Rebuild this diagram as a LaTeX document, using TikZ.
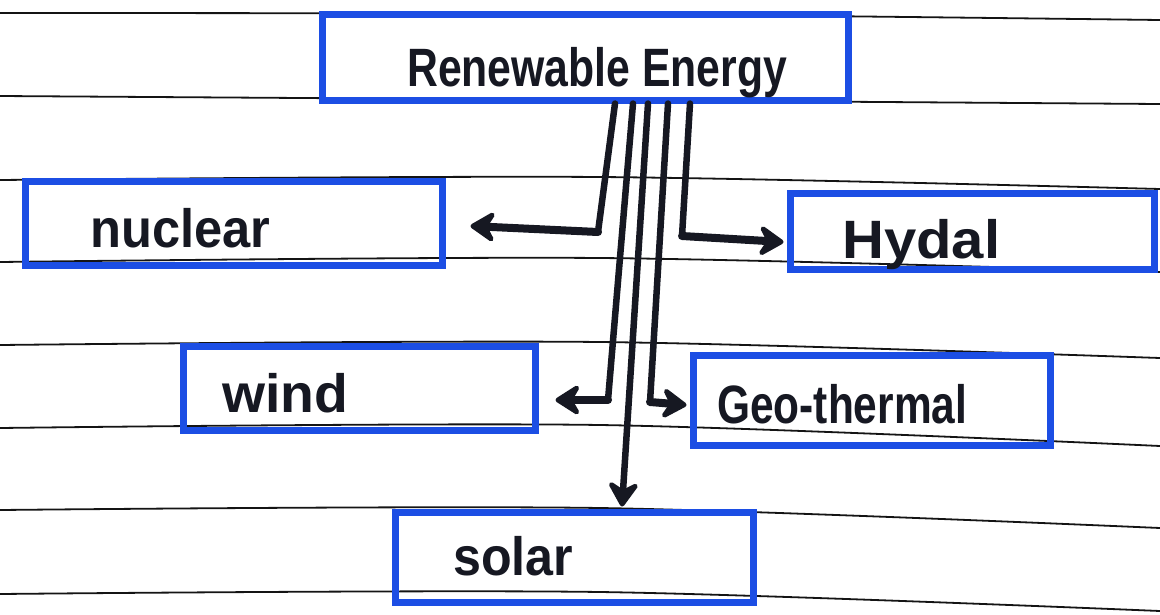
\documentclass[tikz,border=0pt]{standalone}
\usepackage{fontspec}
\setmainfont{Liberation Sans}
\usepackage{graphicx}
\usetikzlibrary{arrows.meta}
\definecolor{pen}{RGB}{28,78,228}
\definecolor{ink}{RGB}{22,24,34}
\definecolor{rule}{RGB}{20,20,20}
\newcommand\hw[2]{\resizebox{#1}{\height}{#2}}
\tikzset{
  box/.style={draw=pen, line width=7pt, rectangle, inner sep=0pt},
  lbl/.style={anchor=base west, inner sep=0pt, text=ink, font=\fontsize{54}{58}\selectfont\bfseries},
  conn/.style={draw=ink, line width=6.5pt, line join=round, line cap=round},
  thickconn/.style={conn, line width=8pt},
  tip/.style={-{Stealth[length=30pt,width=38pt,inset=11pt,round]}},
  ruling/.style={draw=rule, line width=1.8pt}
}
\begin{document}
\begin{tikzpicture}[x=1pt,y=-1pt]
\useasboundingbox[fill=white] (0,0) rectangle (1160,614);
% ruled paper
\foreach \a/\b/\c in {13/14/20, 96/100/104, 180/177/189, 262/258/272, 345/342/358, 428/425/446, 510/508/528, 594/592/611}
  \draw[ruling] plot[smooth] coordinates {(0,\a) (600,\b) (1160,\c)};
% boxes
\node[box, minimum width=526pt, minimum height=86pt] (re) at (585,57) {};
\node[box, minimum width=417pt, minimum height=84pt] (nuc) at (233.5,223) {};
\node[box, minimum width=364pt, minimum height=76pt] (hyd) at (972,231) {};
\node[box, minimum width=352pt, minimum height=84pt] (wind) at (359,388) {};
\node[box, minimum width=357pt, minimum height=90pt] (geo) at (871.5,400) {};
\node[box, minimum width=358pt, minimum height=90pt] (sol) at (574,557) {};
% labels
\node[lbl] (reT) at (407,86) {\hw{380pt}{Renewable Energy}};
\node[lbl] (nucT) at (90,247) {\hw{180pt}{nuclear}};
\node[lbl] (hydT) at (842,258) {\hw{158pt}{Hydal}};
\node[lbl] (windT) at (222,412) {\hw{126pt}{wind}};
\node[lbl] (geoT) at (717,423) {\hw{250pt}{Geo-thermal}};
\node[lbl] (solT) at (453,575) {\hw{120pt}{solar}};
% connector coordinates
\coordinate (t1) at ([xshift=30pt]re.south);
\coordinate (t2) at ([xshift=48pt]re.south);
\coordinate (t3) at ([xshift=63pt]re.south);
\coordinate (t4) at ([xshift=83pt]re.south);
\coordinate (t5) at ([xshift=105pt]re.south);
\coordinate (b1) at (598,232);
\coordinate (b2) at (608,400);
\coordinate (b4) at (650,402);
\coordinate (b5) at (682,236);
\coordinate (e1) at ([xshift=25pt,yshift=-3pt]nuc.east);
\coordinate (e2) at ([xshift=17pt,yshift=-12pt]wind.east);
\coordinate (e3) at ([xshift=48pt,yshift=2pt]sol.north);
\coordinate (e4) at ([xshift=-3pt,yshift=-5pt]geo.west);
\coordinate (e5) at ([xshift=-3pt,yshift=-11pt]hyd.west);
% connectors
\draw[conn] (t1) -- (b1);
\draw[thickconn, tip] (b1) -- (e1);
\draw[conn] (t5) -- (b5);
\draw[thickconn, tip] (b5) -- (e5);
\draw[conn] (t2) -- (b2);
\draw[thickconn, tip] (b2) -- (e2);
\draw[conn] (t4) -- (b4);
\draw[thickconn, tip] (b4) -- (e4);
\draw[conn, tip] (t3) -- (e3);
\end{tikzpicture}
\end{document}
